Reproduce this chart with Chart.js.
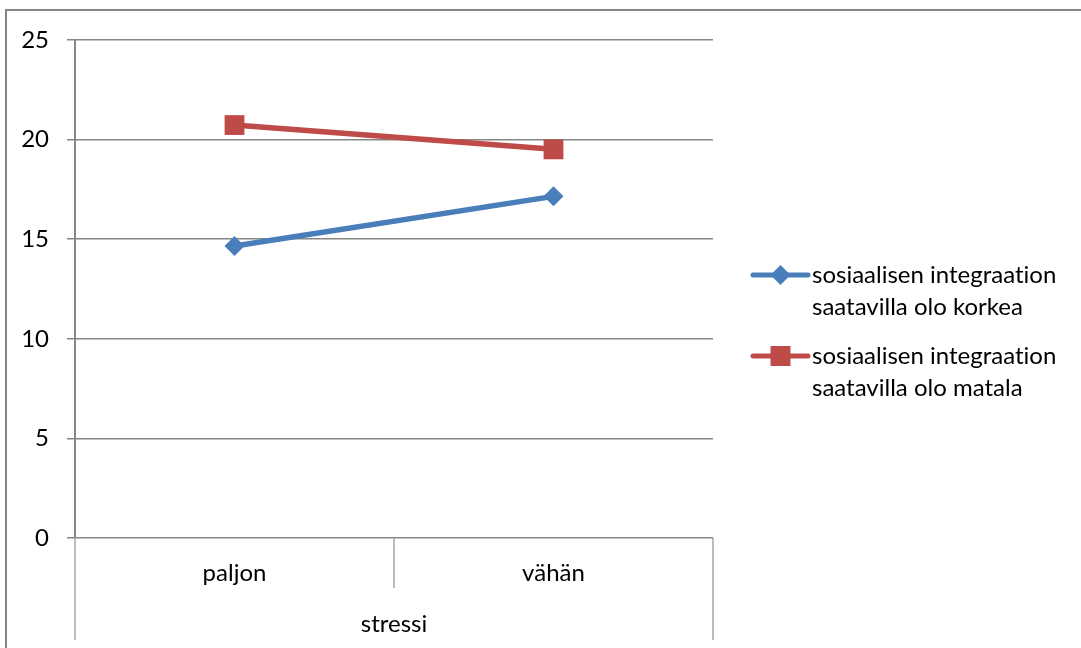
<!DOCTYPE html>
<html lang="fi">
<head>
<meta charset="utf-8">
<title>stressi</title>
<script src="https://cdn.jsdelivr.net/npm/chart.js@4/dist/chart.umd.min.js"></script>
<style>
  html, body { margin: 0; padding: 0; background: #ffffff; }
  #wrap { position: relative; width: 1081px; height: 648px; }
</style>
</head>
<body>
<div id="wrap"><canvas id="chart"></canvas></div>
<script>
// Categories and series
const categories = ['paljon', 'vähän'];
const axisTitle = 'stressi';
const korkeaValues = [14.66, 17.15];
const matalaValues = [20.73, 19.51];
const korkeaName = ['sosiaalisen integraation', 'saatavilla olo korkea'];
const matalaName = ['sosiaalisen integraation', 'saatavilla olo matala'];
const yMin = 0, yMax = 25, yStep = 5;

const FONT = 'Lato, "Open Sans", sans-serif';
const BLUE = '#4a7ebb';
const RED = '#be4b48';
const AXIS = '#868686';

// Outer frame, category separators and the two-line legend
const decor = {
  id: 'decor',
  beforeDraw(chart) {
    const ctx = chart.ctx;
    // plain glyphs, no ligatures
    ctx.textRendering = 'optimizeSpeed';
    ctx.save();
    ctx.strokeStyle = AXIS;
    ctx.lineWidth = 2;
    ctx.strokeRect(6, 10, chart.width + 20, chart.height + 20);
    ctx.restore();
  },
  afterDraw(chart) {
    const ctx = chart.ctx;
    const area = chart.chartArea;
    const x = chart.scales.x;
    const n = categories.length;
    ctx.save();
    ctx.strokeStyle = '#a6a6a6';
    ctx.lineWidth = 1.5;
    // boundaries between category bands
    const bounds = [area.left];
    for (let i = 0; i < n - 1; i++) {
      bounds.push((x.getPixelForTick(i) + x.getPixelForTick(i + 1)) / 2);
    }
    bounds.push(area.right);
    bounds.forEach((bx, i) => {
      const outer = i === 0 || i === bounds.length - 1;
      ctx.beginPath();
      ctx.moveTo(Math.round(bx), area.bottom);
      ctx.lineTo(Math.round(bx), outer ? area.bottom + 102 : area.bottom + 50);
      ctx.stroke();
    });

    // legend
    const items = [
      { name: korkeaName, color: BLUE, shape: 'diamond', y: area.top + 235 },
      { name: matalaName, color: RED, shape: 'square', y: area.top + 316 }
    ];
    const lx0 = area.right + 40, lx1 = area.right + 95, mx = (lx0 + lx1) / 2;
    ctx.font = '24px ' + FONT;
    ctx.textBaseline = 'middle';
    ctx.textAlign = 'left';
    items.forEach(it => {
      ctx.strokeStyle = it.color;
      ctx.fillStyle = it.color;
      ctx.lineWidth = 5;
      ctx.lineCap = 'round';
      ctx.beginPath();
      ctx.moveTo(lx0, it.y);
      ctx.lineTo(lx1, it.y);
      ctx.stroke();
      ctx.beginPath();
      if (it.shape === 'diamond') {
        const r = 10;
        ctx.moveTo(mx - r, it.y); ctx.lineTo(mx, it.y - r);
        ctx.lineTo(mx + r, it.y); ctx.lineTo(mx, it.y + r);
        ctx.closePath();
      } else {
        ctx.rect(mx - 10, it.y - 10, 20, 20);
      }
      ctx.fill();
      ctx.fillStyle = '#000000';
      it.name.forEach((line, k) => ctx.fillText(line, lx1 + 4, it.y + k * 32));
    });
    ctx.restore();
  }
};

new Chart(document.getElementById('chart'), {
  type: 'line',
  data: {
    labels: categories,
    datasets: [
      {
        label: korkeaName.join(' '),
        data: korkeaValues,
        borderColor: BLUE,
        backgroundColor: BLUE,
        borderWidth: 5.5,
        pointStyle: 'rectRot',
        pointRadius: 10,
        pointBorderWidth: 0,
        tension: 0
      },
      {
        label: matalaName.join(' '),
        data: matalaValues,
        borderColor: RED,
        backgroundColor: RED,
        borderWidth: 5.5,
        pointStyle: 'rect',
        pointRadius: 14,
        pointBorderWidth: 0,
        tension: 0
      }
    ]
  },
  options: {
    responsive: true,
    maintainAspectRatio: false,
    animation: false,
    devicePixelRatio: 1,
    layout: { padding: { left: 0, top: 40, right: 368, bottom: 0 } },
    plugins: {
      legend: { display: false },
      tooltip: { enabled: false }
    },
    scales: {
      x: {
        offset: true,
        grid: { display: false, drawTicks: false },
        border: { display: false },
        ticks: { color: '#000000', font: { family: FONT, size: 24 }, padding: 21 },
        title: {
          display: true,
          text: axisTitle,
          color: '#000000',
          font: { family: FONT, size: 24 },
          padding: { top: 0, bottom: 9 }
        },
        afterFit(scale) { scale.height = 110; }
      },
      y: {
        min: yMin,
        max: yMax,
        grid: { color: AXIS, lineWidth: 1.5, tickLength: 8, drawTicks: true },
        border: { display: true, color: AXIS, width: 2 },
        ticks: {
          stepSize: yStep,
          color: '#000000',
          font: { family: FONT, size: 24 },
          padding: 18
        },
        afterFit(scale) { scale.width = 75; }
      }
    }
  },
  plugins: [decor]
});
</script>
</body>
</html>
